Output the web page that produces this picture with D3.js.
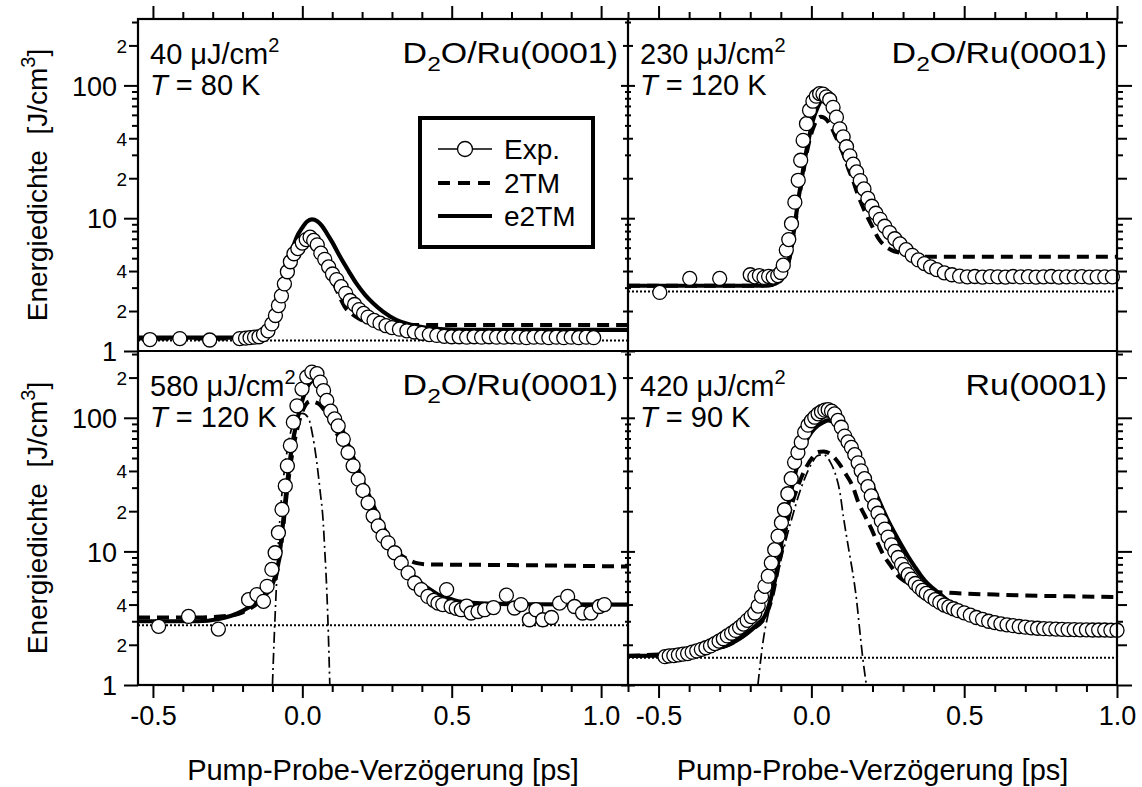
<!DOCTYPE html>
<html>
<head>
<meta charset="utf-8">
<script src="https://cdn.jsdelivr.net/npm/d3@7"></script>
<style>
  body { margin: 0; background: #fff; }
  svg text { fill: #000; }
</style>
</head>
<body>
<svg id="chart" width="1142" height="787"></svg>
<script>
// ---- data ----
// top left: 40 uJ/cm2, 80 K
var tlExpT = [-0.51,-0.41,-0.31,-0.21,-0.19,-0.175,-0.16,-0.145,-0.13,-0.115,-0.102,-0.09,-0.08,-0.07,-0.06,-0.05,-0.04,-0.028,-0.015,0.0,0.013,0.026,0.038,0.05,0.062,0.075,0.088,0.101,0.115,0.13,0.145,0.16,0.175,0.19,0.205,0.22,0.24,0.26,0.28,0.30,0.325,0.35,0.375,0.40,0.425,0.45,0.475,0.50,0.525,0.55,0.575,0.60,0.625,0.65,0.675,0.70,0.725,0.75,0.775,0.80,0.825,0.85,0.875,0.90,0.925,0.95,0.975];
var tlExpE = [1.22,1.24,1.21,1.24,1.25,1.26,1.27,1.28,1.33,1.42,1.6,1.85,2.2,2.6,3.2,3.95,4.7,5.4,5.9,6.5,6.9,7.2,6.8,6.3,5.45,4.9,4.3,3.8,3.45,3.05,2.72,2.4,2.24,2.05,1.92,1.8,1.7,1.62,1.55,1.5,1.46,1.42,1.39,1.36,1.33,1.31,1.29,1.28,1.28,1.27,1.28,1.27,1.28,1.27,1.27,1.28,1.27,1.26,1.27,1.27,1.26,1.27,1.26,1.27,1.26,1.27,1.26];
var tlE2tmT = [-0.55,-0.2,-0.15,-0.13,-0.11,-0.09,-0.074,-0.06,-0.04,-0.02,0.0,0.015,0.032,0.05,0.065,0.082,0.1,0.127,0.155,0.182,0.21,0.238,0.27,0.316,0.36,0.404,0.45,0.5,0.6,0.8,1.09];
var tlE2tmE = [1.26,1.26,1.28,1.35,1.55,1.95,2.4,3.2,5.1,7.1,8.5,9.4,9.8,9.5,8.8,7.7,6.6,5.1,4.0,3.2,2.65,2.28,1.98,1.71,1.58,1.51,1.47,1.45,1.44,1.44,1.44];
var tl2tmT = [-0.55,-0.2,-0.15,-0.13,-0.11,-0.09,-0.074,-0.06,-0.04,-0.02,0.0,0.02,0.04,0.055,0.07,0.085,0.103,0.127,0.145,0.166,0.19,0.216,0.25,0.3,0.394,1.09];
var tl2tmE = [1.24,1.24,1.26,1.33,1.52,1.9,2.35,3.1,4.8,6.0,6.6,6.9,6.4,5.5,4.6,3.9,3.3,2.5,2.1,1.9,1.75,1.66,1.61,1.58,1.57,1.57];
var tlBase = 1.2;

// top right: 230 uJ/cm2, 120 K
var trExpT = [-0.496,-0.398,-0.3,-0.2,-0.185,-0.17,-0.155,-0.14,-0.125,-0.11,-0.1,-0.092,-0.082,-0.074,-0.065,-0.054,-0.043,-0.035,-0.027,-0.016,-0.006,0.005,0.016,0.027,0.038,0.049,0.06,0.071,0.082,0.093,0.104,0.115,0.126,0.137,0.148,0.16,0.172,0.185,0.198,0.211,0.225,0.24,0.256,0.273,0.29,0.31,0.33,0.35,0.37,0.39,0.41,0.435,0.46,0.485,0.51,0.535,0.56,0.585,0.61,0.635,0.66,0.685,0.71,0.735,0.76,0.785,0.81,0.835,0.86,0.885,0.91,0.935,0.96,0.985];
var trExpE = [2.76,3.52,3.52,3.75,3.62,3.7,3.58,3.65,3.6,3.7,3.9,4.43,5.75,6.9,9.1,13.2,19.3,27.3,38.6,51.5,65,76,83,86.7,86,82,78,68.4,57.6,47.1,41,34.5,29.5,25.5,22.3,19.2,16.6,14.1,12.3,10.9,9.8,8.7,7.8,7.0,6.4,5.8,5.25,4.85,4.55,4.3,4.1,3.88,3.75,3.66,3.62,3.64,3.6,3.63,3.62,3.6,3.64,3.61,3.63,3.6,3.62,3.64,3.6,3.62,3.61,3.63,3.6,3.62,3.61,3.62];
var trE2tmT = [-0.6,-0.2,-0.14,-0.12,-0.1,-0.087,-0.075,-0.065,-0.054,-0.043,-0.032,-0.022,-0.01,0.005,0.02,0.032,0.043,0.055,0.065,0.076,0.092,0.109,0.125,0.142,0.158,0.174,0.19,0.207,0.23,0.25,0.275,0.305,0.34,0.37,0.41,0.447,0.5,0.556,0.65,0.8,1.0];
var trE2tmE = [3.1,3.1,3.12,3.2,3.45,3.84,4.7,6.1,9.0,13.7,19.5,27.3,38,54.5,68,77,80.5,78,72,65,52,40.7,31.5,24.3,19.3,15.3,12.8,10.8,8.9,7.67,6.6,5.75,5.0,4.56,4.25,4.06,3.93,3.84,3.78,3.75,3.75];
var tr2tmT = [-0.6,-0.2,-0.14,-0.12,-0.1,-0.087,-0.075,-0.065,-0.054,-0.043,-0.032,-0.02,-0.008,0.005,0.018,0.03,0.042,0.056,0.068,0.08,0.094,0.109,0.12,0.137,0.15,0.163,0.181,0.2,0.22,0.24,0.262,0.3,0.34,0.365,1.0];
var tr2tmE = [3.1,3.1,3.12,3.2,3.4,3.8,4.6,5.9,8.6,13,18.5,27,37,47,55,58,57,53,47,41,35,28.5,24,19,15.5,13,10.5,8.6,7.0,6.2,5.75,5.45,5.2,5.12,5.12];
var trBase = 2.8;

// bottom left: 580 uJ/cm2, 120 K
var blExpT = [-0.481,-0.381,-0.281,-0.18,-0.152,-0.13,-0.118,-0.102,-0.091,-0.08,-0.068,-0.057,-0.05,-0.04,-0.03,-0.018,-0.001,0.015,0.032,0.049,0.06,0.071,0.082,0.095,0.108,0.12,0.137,0.153,0.17,0.187,0.203,0.22,0.237,0.254,0.27,0.287,0.309,0.331,0.354,0.376,0.398,0.42,0.44,0.454,0.47,0.483,0.498,0.515,0.532,0.55,0.565,0.588,0.61,0.64,0.683,0.71,0.732,0.76,0.782,0.805,0.834,0.861,0.888,0.911,0.938,0.966,0.994,1.011];
var blExpE = [2.75,3.26,2.62,4.35,4.75,4.23,5.48,7.33,9.77,13.8,20.6,30.9,43.7,62,92.7,123,164,202,220,214,185,160,135,112,98,87,69,55,43.7,34.7,28.5,23.1,18.4,15.5,13,11.6,9.77,8.2,6.9,5.8,5.18,4.6,4.3,4.1,4.0,5.18,3.87,3.75,3.66,3.9,3.46,3.55,3.66,3.8,4.7,3.77,4.0,3.08,3.66,3.08,3.2,4.1,4.6,3.87,3.46,3.46,3.87,4.0];
var blE2tmT = [-0.55,-0.35,-0.28,-0.214,-0.18,-0.147,-0.12,-0.103,-0.09,-0.08,-0.069,-0.053,-0.036,-0.014,0.009,0.025,0.036,0.05,0.075,0.097,0.12,0.142,0.164,0.187,0.209,0.231,0.253,0.276,0.298,0.32,0.343,0.37,0.398,0.426,0.454,0.49,0.521,0.57,0.621,0.75,1.09];
var blE2tmE = [3.0,3.0,3.12,3.46,3.8,4.23,4.9,5.48,6.6,8.2,13.1,29.2,58.3,103,155,182,190,183,155,125,98,73,55,41,31,24,18.4,14.5,11.6,9.4,7.77,6.6,5.8,5.2,4.75,4.45,4.23,4.12,4.06,4.02,4.0];
var bl2tmT = [-0.55,-0.35,-0.25,-0.2,-0.15,-0.12,-0.1,-0.085,-0.07,-0.053,-0.036,-0.014,0.005,0.026,0.053,0.08,0.1,0.12,0.148,0.176,0.2,0.231,0.255,0.276,0.3,0.32,0.354,0.38,0.42,0.7,1.09];
var bl2tmE = [3.2,3.2,3.3,3.5,4.1,4.8,5.5,6.9,11.5,26,50,88,118,133,128,108,90,73,55,41,30,22,16.5,13,11,9.8,8.7,8.2,8.0,7.9,7.7];
var blDdT = [-0.1,-0.094,-0.086,-0.078,-0.067,-0.055,-0.038,-0.02,0.0,0.02,0.034,0.047,0.059,0.07,0.075,0.082,0.087,0.092];
var blDdE = [1.0,2.3,6,14,29,49,80,100,108,100,75,49,29,16.4,10.3,5.0,2.45,1.0];
var blBase = 2.8;

// bottom right: 420 uJ/cm2, 90 K, clean Ru(0001)
var brExpT = [-0.479,-0.465,-0.45,-0.435,-0.42,-0.405,-0.39,-0.375,-0.36,-0.345,-0.33,-0.316,-0.302,-0.288,-0.275,-0.261,-0.248,-0.235,-0.222,-0.21,-0.197,-0.185,-0.174,-0.163,-0.152,-0.141,-0.131,-0.12,-0.109,-0.098,-0.088,-0.077,-0.066,-0.055,-0.044,-0.033,-0.022,-0.011,0.0,0.011,0.022,0.033,0.044,0.055,0.066,0.076,0.087,0.098,0.109,0.12,0.131,0.142,0.153,0.163,0.174,0.185,0.196,0.207,0.218,0.229,0.24,0.251,0.262,0.273,0.284,0.295,0.306,0.317,0.328,0.34,0.352,0.364,0.376,0.39,0.405,0.42,0.435,0.45,0.465,0.48,0.5,0.52,0.54,0.56,0.58,0.6,0.62,0.64,0.66,0.68,0.7,0.72,0.74,0.76,0.78,0.8,0.82,0.84,0.86,0.88,0.9,0.92,0.94,0.96,0.98,1.0];
var brExpE = [1.63,1.65,1.66,1.68,1.7,1.72,1.76,1.8,1.85,1.9,1.96,2.04,2.13,2.22,2.33,2.44,2.56,2.7,2.86,3.05,3.25,3.46,3.9,4.6,5.48,6.52,8.2,10.3,13,16.4,20.5,27,35,46.4,55,65.6,78,88,95,101,107,111,114,115,112,107,95.5,85,73,66,60,53,46,40.1,35,30.5,26,22,19.3,16.9,14.7,12.8,11.2,10,9.0,8.0,7.3,6.7,6.2,5.75,5.4,5.1,4.85,4.6,4.35,4.15,3.97,3.84,3.72,3.6,3.47,3.33,3.2,3.1,3.0,2.93,2.87,2.82,2.78,2.74,2.71,2.68,2.66,2.64,2.63,2.62,2.61,2.6,2.6,2.59,2.59,2.58,2.58,2.58,2.57,2.57];
var brE2tmT = [-0.6,-0.45,-0.37,-0.3,-0.26,-0.22,-0.196,-0.17,-0.153,-0.131,-0.109,-0.087,-0.065,-0.043,-0.02,0.0,0.022,0.04,0.055,0.075,0.098,0.12,0.142,0.163,0.185,0.207,0.229,0.25,0.272,0.294,0.316,0.338,0.36,0.38,0.403,0.43,0.458,0.49,0.523,0.565,0.61,0.66,0.719,0.828,1.0];
var brE2tmE = [1.65,1.67,1.73,1.9,2.06,2.35,2.59,2.95,3.26,4.6,8.2,16.4,29.2,46.4,65,78,87.7,93,95.5,92,82.6,70,58.3,47,36.8,28.5,21.9,17.2,13.8,11.2,9.2,7.7,6.52,5.75,5.18,4.6,4.1,3.75,3.46,3.15,2.91,2.77,2.67,2.59,2.56];
var br2tmT = [-0.6,-0.3,-0.2,-0.153,-0.13,-0.109,-0.087,-0.065,-0.048,-0.03,-0.015,0.005,0.022,0.04,0.065,0.08,0.095,0.109,0.137,0.153,0.175,0.196,0.215,0.237,0.26,0.285,0.31,0.34,0.38,0.45,0.6,1.0];
var br2tmE = [1.65,1.9,2.55,3.2,4.4,7.5,13.5,22,29,37,43.5,51,55.5,56,53,49,44,39,30,23.5,18.5,14.8,11.8,9.3,7.8,6.5,5.9,5.4,5.05,4.9,4.75,4.56];
var brDdT = [-0.175,-0.165,-0.157,-0.14,-0.12,-0.1,-0.08,-0.06,-0.04,-0.02,0.0,0.02,0.04,0.061,0.08,0.093,0.105,0.115,0.125,0.135,0.148,0.158,0.168,0.18];
var brDdE = [1.0,1.6,2.2,3.5,5.5,8.5,13,19,27,36,45,52,53,47,37,28,18,13,9.5,7,4.3,2.6,1.6,1.0];
var brBase = 1.6;

// panel labels
var fluences = ["40", "230", "580", "420"];
var temps = ["80", "120", "120", "90"];
var samples = ["D2O", "D2O", "D2O", "Ru"];

// ticks
var yMajorTicks = [1, 10, 100];
var yLabeledMinor = [2, 4, 20, 40, 200];
var xMajorTicks = [-0.5, 0, 0.5, 1.0];
var xMajorLabels = ["-0.5", "0.0", "0.5", "1.0"];
var legendNames = ["Exp.", "2TM", "e2TM"];

// ---- layout ----
var FONT = "'Liberation Sans', Arial, Helvetica, sans-serif";
var svg = d3.select("#chart").attr("font-family", FONT);

var cols = [
    { x0: 138, x1: 628, dom: [-0.55, 1.09] },
    { x0: 628, x1: 1117, dom: [-0.6, 1.0] }
];
var rows = [
    { y0: 19, y1: 351 },
    { y0: 351, y1: 685 }
];
var yDomain = [1, 316.2];

function zip(a, b) {
    return a.map(function (v, i) { return [v, b[i]]; });
}

var panels = [
    { c: 0, r: 0, exp: zip(tlExpT, tlExpE), e2tm: zip(tlE2tmT, tlE2tmE), tm2: zip(tl2tmT, tl2tmE), base: tlBase, dd: null },
    { c: 1, r: 0, exp: zip(trExpT, trExpE), e2tm: zip(trE2tmT, trE2tmE), tm2: zip(tr2tmT, tr2tmE), base: trBase, dd: null },
    { c: 0, r: 1, exp: zip(blExpT, blExpE), e2tm: zip(blE2tmT, blE2tmE), tm2: zip(bl2tmT, bl2tmE), base: blBase, dd: zip(blDdT, blDdE) },
    { c: 1, r: 1, exp: zip(brExpT, brExpE), e2tm: zip(brE2tmT, brE2tmE), tm2: zip(br2tmT, br2tmE), base: brBase, dd: zip(brDdT, brDdE) }
];

var defs = svg.append("defs");

function isMajorY(v) { return yMajorTicks.indexOf(v) >= 0; }
function isLabY(v) { return yLabeledMinor.indexOf(v) >= 0; }
function isMajorX(v) { return xMajorTicks.some(function (m) { return Math.abs(m - v) < 1e-6; }); }

panels.forEach(function (p, i) {
    var col = cols[p.c], row = rows[p.r];
    var x = d3.scaleLinear().domain(col.dom).range([col.x0, col.x1]);
    var y = d3.scaleLog().domain(yDomain).range([row.y1, row.y0]);

    defs.append("clipPath").attr("id", "clip" + i)
        .append("rect")
        .attr("x", col.x0).attr("y", row.y0)
        .attr("width", col.x1 - col.x0).attr("height", row.y1 - row.y0);

    var line = d3.line()
        .x(function (d) { return x(d[0]); })
        .y(function (d) { return y(d[1]); })
        .curve(d3.curveMonotoneX);

    var g = svg.append("g");
    var gc = g.append("g").attr("clip-path", "url(#clip" + i + ")");

    // dotted baseline
    gc.append("line")
        .attr("x1", x(col.dom[0])).attr("x2", x(col.dom[1]))
        .attr("y1", y(p.base)).attr("y2", y(p.base))
        .attr("stroke", "#000").attr("stroke-width", 2)
        .attr("stroke-dasharray", "2,2");

    if (p.dd) {
        gc.append("path").datum(p.dd)
            .attr("d", line).attr("fill", "none")
            .attr("stroke", "#000").attr("stroke-width", 1.7)
            .attr("stroke-dasharray", "11,4,2,4");
    }

    gc.append("path").datum(p.tm2)
        .attr("d", line).attr("fill", "none")
        .attr("stroke", "#000").attr("stroke-width", 4)
        .attr("stroke-dasharray", "12,7");

    g.selectAll("circle.exp").data(p.exp).enter()
        .append("circle").attr("class", "exp")
        .attr("cx", function (d) { return x(d[0]); })
        .attr("cy", function (d) { return y(d[1]); })
        .attr("r", 7)
        .attr("fill", "#fff").attr("stroke", "#000").attr("stroke-width", 1.3);

    gc.append("path").datum(p.e2tm)
        .attr("d", line).attr("fill", "none")
        .attr("stroke", "#000").attr("stroke-width", 4.2)
        .attr("stroke-linejoin", "round");

    // ---- axes ----
    var yTicks = y.ticks();
    function yLen(v, maj, lab, mnr) { return isMajorY(v) ? maj : (isLabY(v) ? lab : mnr); }

    if (p.c === 0) {
        var gl = svg.append("g").attr("transform", "translate(" + col.x0 + ",0)")
            .call(d3.axisLeft(y).tickValues(yTicks).tickSize(0).tickFormat(function (v) {
                if (isMajorY(v)) return String(v);
                if (isLabY(v)) return String(v).charAt(0);
                return "";
            }));
        gl.attr("font-family", FONT).attr("font-size", null);
        gl.select(".domain").remove();
        gl.selectAll(".tick line")
            .attr("x2", function (v) { return -yLen(v, 14, 9, 6); })
            .attr("stroke-width", 2);
        gl.selectAll(".tick text")
            .attr("x", function (v) { return isMajorY(v) ? -21 : -11; })
            .attr("dy", "0.36em")
            .attr("font-size", function (v) { return isMajorY(v) ? 27 : 19; });

        // middle divider: ticks to both sides
        var gm = svg.append("g").attr("transform", "translate(" + col.x1 + ",0)")
            .call(d3.axisRight(y).tickValues(yTicks).tickSize(0).tickFormat(""));
        gm.select(".domain").remove();
        gm.selectAll(".tick line")
            .attr("x1", function (v) { return -yLen(v, 7, 5, 3); })
            .attr("x2", function (v) { return yLen(v, 7, 5, 3); })
            .attr("stroke-width", 2);
    } else {
        var gr = svg.append("g").attr("transform", "translate(" + col.x1 + ",0)")
            .call(d3.axisRight(y).tickValues(yTicks).tickSize(0).tickFormat(""));
        gr.select(".domain").remove();
        gr.selectAll(".tick line")
            .attr("x2", function (v) { return yLen(v, 15, 10, 6); })
            .attr("stroke-width", 2);
    }

    var xTicks = d3.range(-6, 11).map(function (k) { return k / 10; })
        .filter(function (v) { return v >= col.dom[0] - 1e-6 && v <= col.dom[1] + 1e-6; });

    if (p.r === 0) {
        var gt = svg.append("g").attr("transform", "translate(0," + row.y0 + ")")
            .call(d3.axisTop(x).tickValues(xTicks).tickSize(0).tickFormat(""));
        gt.select(".domain").remove();
        gt.selectAll(".tick line")
            .attr("y2", function (v) { return isMajorX(v) ? -13 : -7; })
            .attr("stroke-width", 2);
    } else {
        var gb = svg.append("g").attr("transform", "translate(0," + row.y1 + ")")
            .call(d3.axisBottom(x).tickValues(xTicks).tickSize(0).tickFormat(function (v) {
                for (var k = 0; k < xMajorTicks.length; k++) {
                    if (Math.abs(xMajorTicks[k] - v) < 1e-6) return xMajorLabels[k];
                }
                return "";
            }));
        gb.attr("font-family", FONT).attr("font-size", 27);
        gb.select(".domain").remove();
        gb.selectAll(".tick line")
            .attr("y2", function (v) { return isMajorX(v) ? 13 : 7; })
            .attr("stroke-width", 2);
        gb.selectAll(".tick text").attr("y", 40).attr("dy", "0");
    }

    // ---- panel texts ----
    var tx = col.x0 + 12;
    var f = g.append("text").attr("x", tx).attr("y", row.y0 + 45).attr("font-size", 29);
    f.append("tspan").text(fluences[i] + " \u03bcJ/cm");
    f.append("tspan").attr("font-size", 20).attr("dy", -12).text("2");

    var t = g.append("text").attr("x", tx).attr("y", row.y0 + 76).attr("font-size", 29);
    t.append("tspan").attr("font-style", "italic").text("T");
    t.append("tspan").text(" = " + temps[i] + " K");

    // sample label, drawn a little wider as in the original figure
    var s = g.append("g")
        .attr("transform", "translate(" + (col.x1 - 10) + "," + (row.y0 + 44) + ") scale(1.17,1)")
        .append("text").attr("font-size", 29).attr("text-anchor", "end");
    if (samples[i] === "D2O") {
        s.append("tspan").text("D");
        s.append("tspan").attr("font-size", 21).attr("dy", 8).text("2");
        s.append("tspan").attr("dy", -8).text("O/Ru(0001)");
    } else {
        s.append("tspan").text("Ru(0001)");
    }
});

// frame
var frame = svg.append("g").attr("stroke", "#000").attr("stroke-width", 2.2).attr("fill", "none");
frame.append("rect").attr("x", cols[0].x0).attr("y", rows[0].y0)
    .attr("width", cols[1].x1 - cols[0].x0).attr("height", rows[1].y1 - rows[0].y0);
frame.append("line").attr("x1", cols[0].x0).attr("x2", cols[1].x1).attr("y1", rows[0].y1).attr("y2", rows[0].y1);
frame.append("line").attr("x1", cols[0].x1).attr("x2", cols[0].x1).attr("y1", rows[0].y0).attr("y2", rows[1].y1);

// axis titles
rows.forEach(function (row) {
    var yt = svg.append("text")
        .attr("transform", "translate(47," + ((row.y0 + row.y1) / 2) + ") rotate(-90)")
        .attr("text-anchor", "middle").attr("font-size", 28)
        .style("white-space", "pre");
    yt.append("tspan").text("Energiedichte  [J/cm");
    yt.append("tspan").attr("font-size", 20).attr("dy", -12).text("3");
    yt.append("tspan").attr("dy", 12).text("]");
});
cols.forEach(function (col) {
    svg.append("text")
        .attr("x", (col.x0 + col.x1) / 2).attr("y", 780)
        .attr("text-anchor", "middle").attr("font-size", 29)
        .text("Pump-Probe-Verz\u00f6gerung [ps]");
});

// legend
var lg = svg.append("g");
lg.append("rect").attr("x", 420).attr("y", 118).attr("width", 173).attr("height", 129)
    .attr("fill", "#fff").attr("stroke", "#000").attr("stroke-width", 4);
var ly = [149, 183, 216];
legendNames.forEach(function (name, k) {
    var yy = ly[k];
    var ln = lg.append("line").attr("x1", 438).attr("x2", 492).attr("y1", yy).attr("y2", yy)
        .attr("stroke", "#000");
    if (k === 0) {
        ln.attr("stroke-width", 1.5);
        lg.append("circle").attr("cx", 465).attr("cy", yy).attr("r", 7.5)
            .attr("fill", "#fff").attr("stroke", "#000").attr("stroke-width", 1.3);
    } else if (k === 1) {
        ln.attr("stroke-width", 4).attr("stroke-dasharray", "12,8");
    } else {
        ln.attr("stroke-width", 4.2);
    }
    lg.append("text").attr("x", 504).attr("y", yy + 10).attr("font-size", 28).text(name);
});
</script>
</body>
</html>
